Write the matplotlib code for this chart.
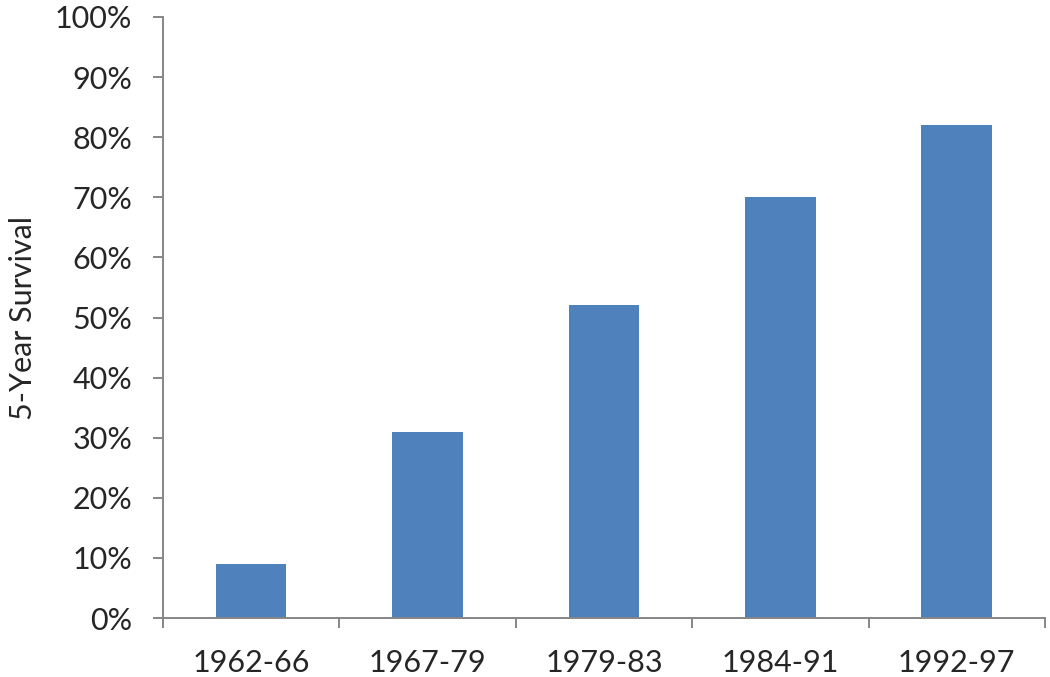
import matplotlib
matplotlib.use('Agg')
import matplotlib.pyplot as plt
from matplotlib.ticker import PercentFormatter, FixedLocator

periods = ['1962-66', '1967-79', '1979-83', '1984-91', '1992-97']
survival = [9, 31, 52, 70, 82]

plt.rcParams['font.family'] = ['Lato', 'DejaVu Sans']

fig = plt.figure(figsize=(10.5, 6.77), dpi=100)
ax = fig.add_axes([0.1552, 0.0871, 0.84, 0.8878])

x = range(len(periods))
ax.bar(x, survival, width=0.4, color='#4F81BD')

ax.set_xlim(-0.5, len(periods) - 0.5)
ax.set_ylim(0, 100)
ax.set_yticks(range(0, 101, 10))
ax.yaxis.set_major_formatter(PercentFormatter(decimals=0))

# labels centred under bars, tick marks on category boundaries
ax.set_xticks(list(x))
ax.set_xticklabels(periods)
ax.tick_params(axis='x', which='major', length=0, pad=22)
ax.xaxis.set_minor_locator(FixedLocator([i - 0.5 for i in range(len(periods) + 1)]))
ax.tick_params(axis='x', which='minor', length=7, width=1.4, color='#868686', direction='out')
ax.tick_params(axis='y', length=7, width=1.4, color='#868686', pad=15)
ax.tick_params(labelsize=22, labelcolor='#262626')

for side in ['top', 'right']:
    ax.spines[side].set_visible(False)
for side in ['left', 'bottom']:
    ax.spines[side].set_color('#868686')
    ax.spines[side].set_linewidth(1.4)

ax.set_ylabel('5-Year Survival', fontsize=22, color='#262626', labelpad=13)

fig.savefig('out.png', dpi=100)
